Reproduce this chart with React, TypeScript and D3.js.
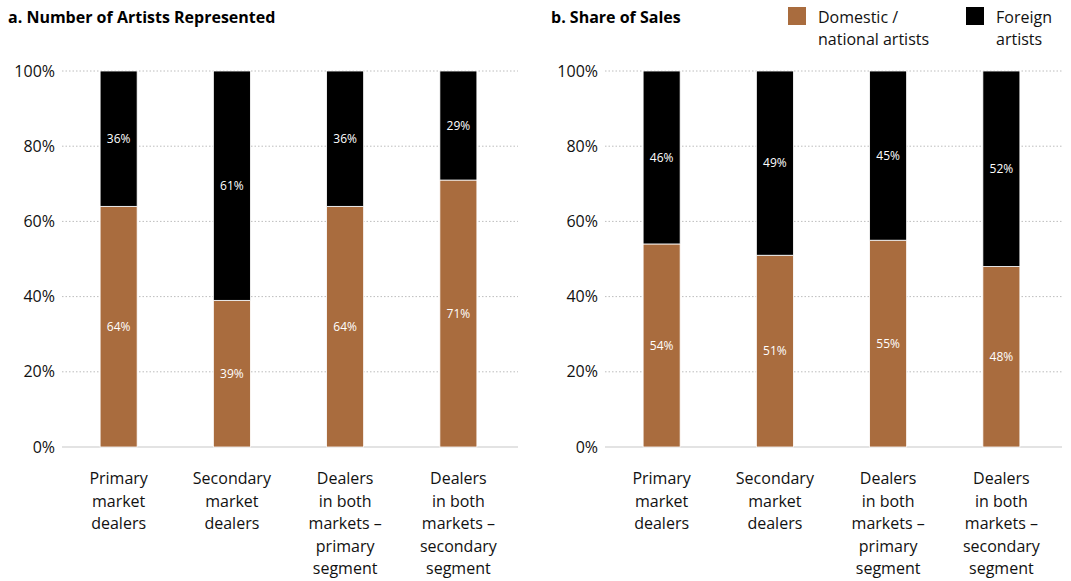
import React, { useRef, useEffect } from 'react';
import * as d3 from 'd3';

const categories: string[][] = [
    ['Primary', 'market', 'dealers'],
    ['Secondary', 'market', 'dealers'],
    ['Dealers', 'in both', 'markets –', 'primary', 'segment'],
    ['Dealers', 'in both', 'markets –', 'secondary', 'segment'],
];

const artistsDomestic = [64, 39, 64, 71];
const artistsForeign = [36, 61, 36, 29];
const salesDomestic = [54, 51, 55, 48];
const salesForeign = [46, 49, 45, 52];

const yTicks = [0, 20, 40, 60, 80, 100];

const BROWN = '#a96c3e';
const FONT = "'Open Sans', 'Noto Sans', sans-serif";

const App: React.FC = () => {
    const svgRef = useRef<SVGSVGElement | null>(null);

    useEffect(() => {
        const svg = d3.select(svgRef.current);
        svg.selectAll('*').remove();

        const top = 71;
        const bottom = 447;
        const yScale = d3.scaleLinear().domain([0, 100]).range([bottom, top]);

        const drawPanel = (x0: number, x1: number, title: string, dom: number[], frn: number[]) => {
            const g = svg.append('g');
            const xScale = d3.scaleBand<number>()
                .domain(d3.range(categories.length))
                .range([x0, x0 + 453])
                .paddingInner(0.673)
                .paddingOuter(0.3365);

            g.append('text')
                .attr('x', x0 - 54)
                .attr('y', 23)
                .text(title)
                .style('font-family', FONT)
                .style('font-weight', 700)
                .style('font-size', '16px');

            // gridlines
            yTicks.forEach(t => {
                g.append('line')
                    .attr('x1', x0)
                    .attr('x2', x1)
                    .attr('y1', yScale(t))
                    .attr('y2', yScale(t))
                    .attr('stroke', t === 0 ? '#c8c8c8' : '#bdbdbd')
                    .attr('stroke-width', t === 0 ? 1.2 : 1)
                    .attr('stroke-dasharray', t === 0 ? null : '1.5,2');
                g.append('text')
                    .attr('x', x0 - 7)
                    .attr('y', yScale(t))
                    .attr('dy', '0.35em')
                    .attr('text-anchor', 'end')
                    .text(`${t}%`)
                    .style('font-family', FONT)
                    .style('font-size', '16px')
                    .attr('fill', '#111');
            });

            const bw = xScale.bandwidth();
            dom.forEach((v, i) => {
                const x = xScale(i)!;
                g.append('rect')
                    .attr('x', x)
                    .attr('y', yScale(v))
                    .attr('width', bw)
                    .attr('height', yScale(0) - yScale(v))
                    .attr('fill', BROWN)
                    .attr('stroke', '#fff')
                    .attr('stroke-width', 0.8);
                g.append('rect')
                    .attr('x', x)
                    .attr('y', yScale(v + frn[i]))
                    .attr('width', bw)
                    .attr('height', yScale(v) - yScale(v + frn[i]))
                    .attr('fill', '#000')
                    .attr('stroke', '#fff')
                    .attr('stroke-width', 0.8);
                g.append('text')
                    .attr('x', x + bw / 2)
                    .attr('y', yScale(v / 2))
                    .attr('dy', '0.35em')
                    .attr('text-anchor', 'middle')
                    .attr('fill', '#fff')
                    .text(`${v}%`)
                    .style('font-family', FONT)
                    .style('font-size', '12px');
                g.append('text')
                    .attr('x', x + bw / 2)
                    .attr('y', yScale(v + frn[i] / 2))
                    .attr('dy', '0.35em')
                    .attr('text-anchor', 'middle')
                    .attr('fill', '#fff')
                    .text(`${frn[i]}%`)
                    .style('font-family', FONT)
                    .style('font-size', '12px');

                const lbl = g.append('text')
                    .attr('text-anchor', 'middle')
                    .style('font-family', FONT)
                    .style('font-size', '16px')
                    .attr('fill', '#111');
                categories[i].forEach((line, j) => {
                    lbl.append('tspan')
                        .attr('x', x + bw / 2)
                        .attr('y', 484 + j * 22.6)
                        .text(line);
                });
            });
        };

        drawPanel(62, 518, 'a. Number of Artists Represented', artistsDomestic, artistsForeign);
        drawPanel(605, 1062, 'b. Share of Sales', salesDomestic, salesForeign);

        // legend
        const legend = [
            { color: BROWN, lines: ['Domestic /', 'national artists'], x: 788 },
            { color: '#000', lines: ['Foreign', 'artists'], x: 966 },
        ];
        legend.forEach(l => {
            svg.append('rect')
                .attr('x', l.x)
                .attr('y', 7)
                .attr('width', 18)
                .attr('height', 18)
                .attr('fill', l.color);
            const t = svg.append('text')
                .style('font-family', FONT)
                .style('font-size', '16px')
                .attr('fill', '#111');
            l.lines.forEach((line, j) => {
                t.append('tspan')
                    .attr('x', l.x + 30)
                    .attr('y', 23 + j * 22)
                    .text(line);
            });
        });
    }, []);

    return (
        <svg ref={svgRef} width={1071} height={581} style={{ position: 'absolute', left: 0, top: 0, background: '#fff' }}></svg>
    );
};

export default App;
